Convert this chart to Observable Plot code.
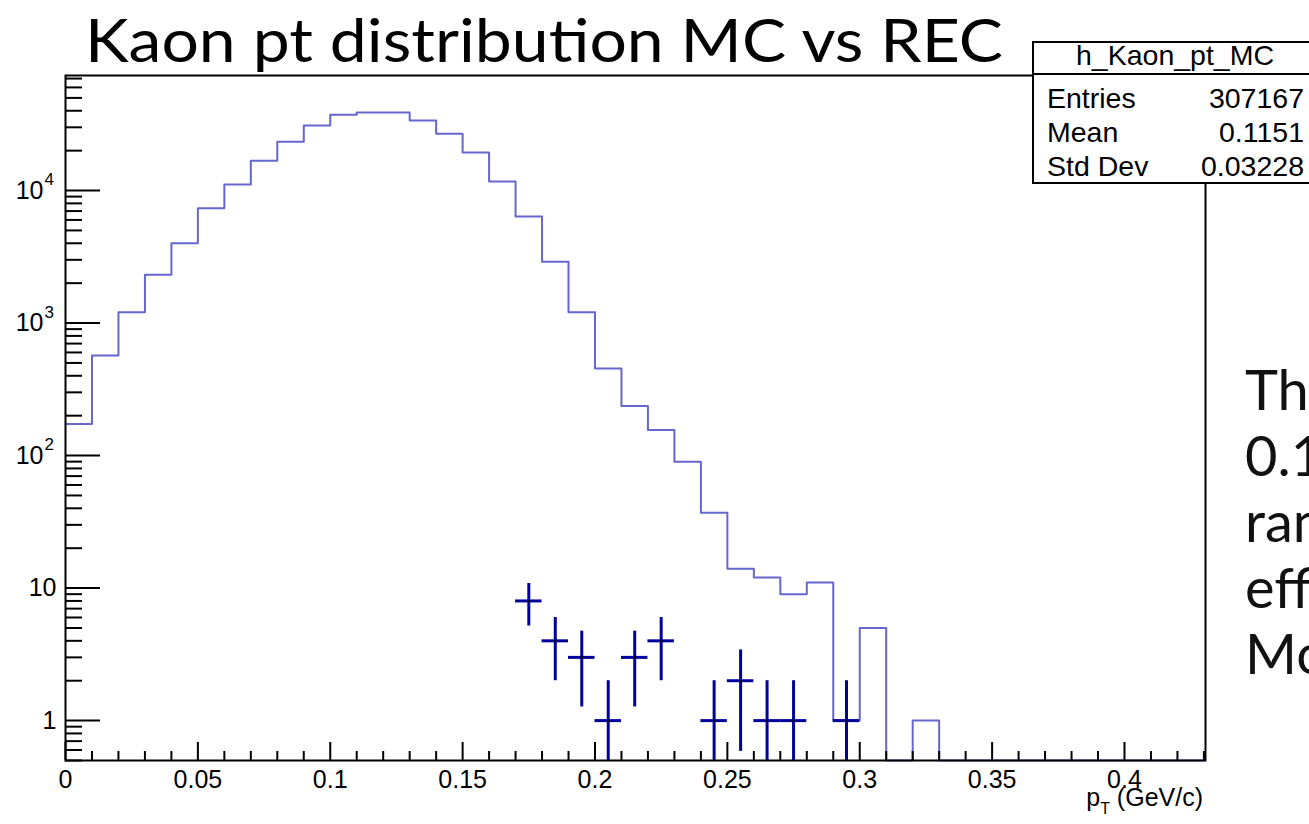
<!DOCTYPE html>
<html><head><meta charset="utf-8">
<script src="https://cdn.jsdelivr.net/npm/d3@7"></script>
<script src="https://cdn.jsdelivr.net/npm/@observablehq/plot@0.6"></script>
<style>
html,body{margin:0;padding:0;background:#fff;overflow:hidden;width:1309px;height:824px;}
#wrap{position:relative;width:1309px;height:824px;overflow:hidden;}
#wrap svg{position:absolute;left:0;top:0;}
</style></head><body><div id="wrap"></div>
<script>
// MC histogram: bin contents, 0.01 GeV/c bins starting at 0
const mcBinWidth = 0.01;
const mcCounts = [173,569,1207,2312,4000,7350,11100,16800,23300,30950,37250,38800,38800,33700,26800,19400,11700,6370,2900,1207,454,237,156,90,37,14,12,9,11,1,5,0,1,0,0,0,0,0,0,0,0,0,0];
// REC points (bin centres, counts)
const recCenters = [0.175,0.185,0.195,0.205,0.215,0.225,0.245,0.255,0.265,0.275,0.295];
const recCounts = [8,4,3,1,3,4,1,2,1,1,1];
// axis labels
const xTickValues = [0,0.05,0.1,0.15,0.2,0.25,0.3,0.35,0.4];
const xTickLabels = ["0","0.05","0.1","0.15","0.2","0.25","0.3","0.35","0.4"];
const yPlainTicks = [1,10];
const yPlainLabels = ["1","10"];
const yExpTicks = [100,1000,10000];
const yExpLabels = ["2","3","4"];
// stats box
const statsTitle = "h_Kaon_pt_MC";
const statsNames = ["Entries","Mean","Std Dev"];
const statsValues = ["307167","0.1151","0.03228"];

const yMin = 0.5, yMax = 73800, xMax = 0.4306;
const W = 1309, H = 824, mL = 65, mR = 104, mT = 75, mB = 64;
const fW = W - mL - mR, fH = H - mT - mB;

const mcData = mcCounts.map((c, i) => ({x: i * mcBinWidth, y: Math.max(c, yMin)}));
mcData.push({x: mcCounts.length * mcBinWidth, y: yMin});
const recData = recCenters.map((x, i) => {
  const n = recCounts[i], e = Math.sqrt(n);
  return {x, n, lo: Math.max(n - e, yMin), hi: n + e};
});

const xMinor = d3.range(1, 44).map(i => i / 100).filter(v => Math.round(v * 100) % 5 !== 0 && v <= xMax);
const yMinor = [];
for (let k = -1; k <= 4; k++) for (let m = 2; m <= 9; m++) { const v = m * Math.pow(10, k); if (v >= yMin && v <= yMax) yMinor.push(v); }
const yMajor = [1,10,100,1000,10000];

const plot = Plot.plot({
  width: W, height: H,
  marginLeft: mL, marginRight: mR, marginTop: mT, marginBottom: mB,
  style: {fontFamily: "'Liberation Sans', Arial, sans-serif", background: "#fff", color: "#000"},
  x: {domain: [0, xMax], axis: null},
  y: {type: "log", domain: [yMin, yMax], axis: null},
  marks: [
    Plot.line(mcData, {x: "x", y: "y", curve: "step-after", stroke: "#6666cf", strokeWidth: 2}),
    Plot.ruleX(recData, {x: "x", y1: "lo", y2: "hi", stroke: "#00009c", strokeWidth: 3}),
    Plot.ruleY(recData, {y: "n", x1: d => d.x - 0.005, x2: d => d.x + 0.005, stroke: "#00009c", strokeWidth: 3}),
    Plot.dot(recData, {x: "x", y: "n", r: 1.3, fill: "#000", stroke: null}),
    Plot.tickX(xMinor, {x: d => d, insetTop: fH - 9, strokeWidth: 2}),
    Plot.tickX(xTickValues, {x: d => d, insetTop: fH - 18, strokeWidth: 2}),
    Plot.tickY(yMinor, {y: d => d, insetRight: fW - 17, strokeWidth: 2}),
    Plot.tickY(yMajor, {y: d => d, insetRight: fW - 35, strokeWidth: 2}),
    Plot.frame({stroke: "#000", strokeWidth: 2}),
    Plot.text(xTickValues, {x: d => d, text: (d, i) => xTickLabels[i], frameAnchor: "bottom", dy: 19, lineAnchor: "middle", fontSize: 25}),
    Plot.text(yPlainTicks, {y: d => d, text: (d, i) => yPlainLabels[i], frameAnchor: "left", textAnchor: "end", dx: -9, fontSize: 25}),
    Plot.text(yExpTicks, {y: d => d, text: () => "10", frameAnchor: "left", textAnchor: "end", dx: -22, fontSize: 25}),
    Plot.text(yExpTicks, {y: d => d, text: (d, i) => yExpLabels[i], frameAnchor: "left", textAnchor: "start", dx: -21, dy: -11, fontSize: 17})
  ]
});
document.getElementById("wrap").appendChild(plot);

// overlay: title, stats box, axis title, side text
const ns = "http://www.w3.org/2000/svg";
const ov = document.createElementNS(ns, "svg");
ov.setAttribute("width", W); ov.setAttribute("height", H);
const sideLines = ["The", "0.1", "range", "efficiency", "Monte"];
let s = "";
s += `<text x="85" y="62" font-family="Lato" font-size="60" textLength="918" lengthAdjust="spacingAndGlyphs" fill="#000">Kaon pt distribution MC vs REC</text>`;
s += `<rect x="1033" y="42" width="300" height="141" fill="#fff" stroke="#000" stroke-width="2"/>`;
s += `<line x1="1033" x2="1309" y1="74" y2="74" stroke="#000" stroke-width="2"/>`;
s += `<g font-family="'Liberation Sans', Arial, sans-serif" font-size="28.5" fill="#000">`;
s += `<text x="1175" y="65" text-anchor="middle">${statsTitle}</text>`;
statsNames.forEach((n, i) => {
  const yb = 108 + i * 34;
  s += `<text x="1047" y="${yb}">${n}</text><text x="1304" y="${yb}" text-anchor="end">${statsValues[i]}</text>`;
});
s += `</g>`;
s += `<text x="1203" y="806" text-anchor="end" font-family="'Liberation Sans', Arial, sans-serif" font-size="25" fill="#000">p<tspan font-size="16" dy="8">T</tspan><tspan dy="-8"> (GeV/c)</tspan></text>`;
s += `<g font-family="Lato" font-size="56" fill="#111">`;
sideLines.forEach((t, i) => { s += `<text x="1245" y="${410 + i * 66}">${t}</text>`; });
s += `</g>`;
ov.innerHTML = s;
document.getElementById("wrap").appendChild(ov);
</script>
</body></html>
